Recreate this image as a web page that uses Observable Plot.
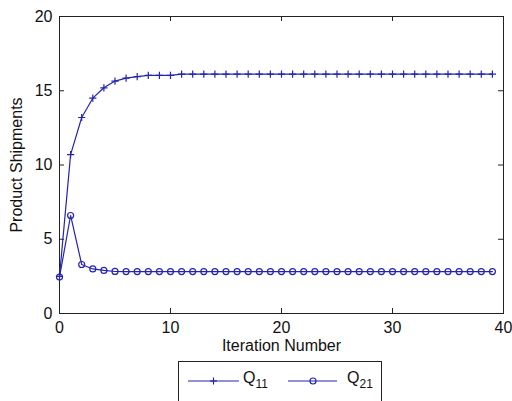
<!DOCTYPE html>
<html>
<head>
<meta charset="utf-8">
<script src="https://cdn.jsdelivr.net/npm/d3@7"></script>
<script src="https://cdn.jsdelivr.net/npm/@observablehq/plot@0.6"></script>
<style>
  html, body { margin: 0; padding: 0; background: #fff; overflow: hidden; }
  #wrap { position: relative; width: 512px; height: 401px; font-family: "Liberation Sans", Arial, sans-serif; }
  #legend { position: absolute; left: 178px; top: 361px; width: 204px; height: 50px; border: 1px solid #222; background: #fff; box-sizing: border-box; }
  #legend svg { position: absolute; left: 0; top: 0; }
  .lt { position: absolute; font-size: 16px; color: #111; top: 7px; }
  .lt sub { font-size: 12px; vertical-align: -5px; }
</style>
</head>
<body>
<div id="wrap"></div>
<script>
const iterations = [0,1,2,3,4,5,6,7,8,9,10,11,12,13,14,15,16,17,18,19,20,21,22,23,24,25,26,27,28,29,30,31,32,33,34,35,36,37,38,39];
const q11 = [2.5,10.7,13.2,14.5,15.2,15.65,15.85,15.95,16.03,16.03,16.04,16.12,16.12,16.12,16.12,16.12,16.12,16.12,16.12,16.12,16.12,16.12,16.12,16.12,16.12,16.12,16.12,16.12,16.12,16.12,16.12,16.12,16.12,16.12,16.12,16.12,16.12,16.12,16.12,16.12];
const q21 = [2.45,6.6,3.3,3.0,2.9,2.83,2.82,2.82,2.82,2.82,2.82,2.82,2.82,2.82,2.82,2.82,2.82,2.82,2.82,2.82,2.82,2.82,2.82,2.82,2.82,2.82,2.82,2.82,2.82,2.82,2.82,2.82,2.82,2.82,2.82,2.82,2.82,2.82,2.82,2.82];
const seriesNames = ["Q11", "Q21"];
const xTicks = [0,10,20,30,40];
const yTicks = [0,5,10,15,20];
const xLabel = "Iteration Number";
const yLabel = "Product Shipments";

const data = [];
iterations.forEach((it, i) => {
  data.push({it, v: q11[i], s: seriesNames[0]});
  data.push({it, v: q21[i], s: seriesNames[1]});
});

const blue = "#2424b0";
const plusSymbol = {
  draw(ctx, size) {
    const r = Math.sqrt(size / Math.PI);
    ctx.moveTo(-r, 0); ctx.lineTo(r, 0);
    ctx.moveTo(0, -r); ctx.lineTo(0, r);
  }
};

const W = 512, H = 401, mL = 59, mR = 9, mT = 16, mB = 88;
const plotH = H - mT - mB, plotW = W - mL - mR;
const tl = 5;

const chart = Plot.plot({
  width: W, height: H,
  marginLeft: mL, marginRight: mR, marginTop: mT, marginBottom: mB,
  style: {fontFamily: "'Liberation Sans', Arial, sans-serif", fontSize: "16px", color: "#111", background: "#fff"},
  x: {domain: [0, 40], ticks: xTicks, label: null},
  y: {domain: [0, 20], ticks: yTicks, label: null},
  marks: [
    Plot.frame({stroke: "#222", strokeWidth: 1}),
    Plot.ruleX(xTicks, {insetTop: plotH - tl, stroke: "#222"}),
    Plot.ruleX(xTicks, {insetBottom: plotH - tl, stroke: "#222"}),
    Plot.ruleY(yTicks, {insetRight: plotW - tl, stroke: "#222"}),
    Plot.ruleY(yTicks, {insetLeft: plotW - tl, stroke: "#222"}),
    Plot.axisX({ticks: xTicks, tickSize: 0, tickPadding: 8, fontSize: 16}),
    Plot.axisY({ticks: yTicks, tickSize: 0, tickPadding: 7, fontSize: 16}),
    Plot.line(data, {x: "it", y: "v", z: "s", stroke: blue, strokeWidth: 1.2}),
    Plot.dot(data.filter(d => d.s === seriesNames[0]), {x: "it", y: "v", symbol: plusSymbol, r: 3.6, stroke: blue, fill: "none", strokeWidth: 1.2}),
    Plot.dot(data.filter(d => d.s === seriesNames[1]), {x: "it", y: "v", symbol: "circle", r: 3, stroke: blue, fill: "none", strokeWidth: 1.2}),
    Plot.text([xLabel], {frameAnchor: "bottom", dy: 37, text: d => d, fontSize: 16}),
    Plot.text([yLabel], {frameAnchor: "left", dx: -43, rotate: -90, textAnchor: "middle", text: d => d, fontSize: 16})
  ]
});

const wrap = document.getElementById("wrap");
wrap.appendChild(chart);

const legend = document.createElement("div");
legend.id = "legend";
legend.innerHTML = `
<svg width="204" height="50">
  <line x1="9" x2="60" y1="19" y2="19" stroke="${blue}" stroke-width="1.2"/>
  <line x1="31" x2="38" y1="19" y2="19" stroke="${blue}" stroke-width="1.2"/>
  <line x1="34.5" x2="34.5" y1="15.5" y2="22.5" stroke="${blue}" stroke-width="1.2"/>
  <line x1="109" x2="158" y1="19" y2="19" stroke="${blue}" stroke-width="1.2"/>
  <circle cx="134" cy="19" r="3" fill="none" stroke="${blue}" stroke-width="1.2"/>
</svg>
<span class="lt" style="left:64px">Q<sub>11</sub></span>
<span class="lt" style="left:168px">Q<sub>21</sub></span>`;
wrap.appendChild(legend);
</script>
</body>
</html>
